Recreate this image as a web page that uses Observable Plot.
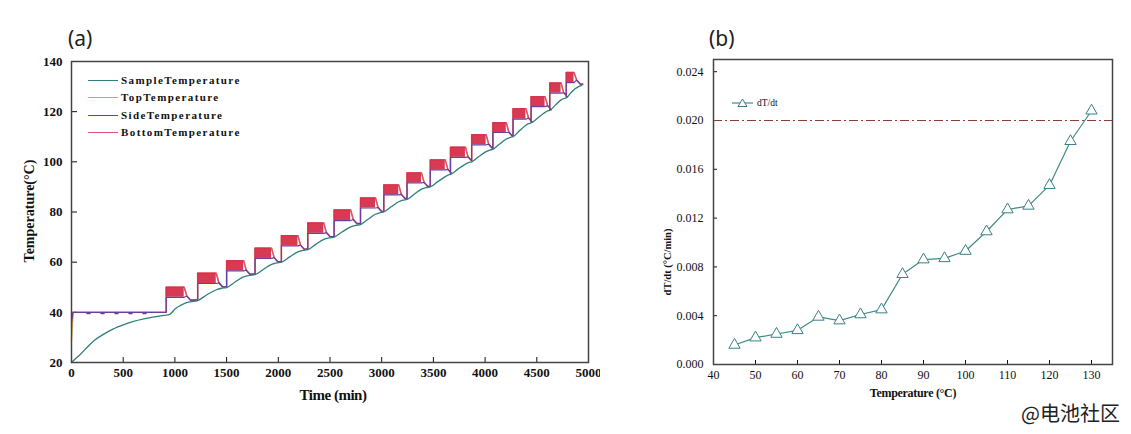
<!DOCTYPE html>
<html>
<head>
<meta charset="utf-8">
<script src="https://cdn.jsdelivr.net/npm/d3@7"></script>
<script src="https://cdn.jsdelivr.net/npm/@observablehq/plot@0.6"></script>
<style>
  body { margin:0; width:1131px; height:434px; position:relative; background:#fff; overflow:hidden; }
  .abs { position:absolute; white-space:nowrap; }
  .serif { font-family:"Liberation Serif","DejaVu Serif",serif; color:#111; }
  .rot { transform:translate(-50%,-50%) rotate(-90deg); }
  .ctr { transform:translate(-50%,-50%); }
  .leg { font-weight:bold; font-size:11px; letter-spacing:1.4px; }
</style>
</head>
<body>
<div id="pa" class="abs" style="left:0;top:0"></div>
<div id="pb" class="abs" style="left:640px;top:0"></div>

<div class="abs" style="left:68px;top:24px;font:21px 'Noto Sans','DejaVu Sans',sans-serif;color:#222">(a)</div>
<div class="abs" style="left:709px;top:24px;font:21px 'Noto Sans','DejaVu Sans',sans-serif;color:#222">(b)</div>

<div class="abs serif ctr" style="left:333px;top:395px;font-weight:bold;font-size:15px;letter-spacing:-0.5px">Time (min)</div>
<div class="abs serif rot" style="left:30px;top:211px;font-weight:bold;font-size:14px">Temperature(°C)</div>
<div class="abs serif ctr" style="left:913px;top:393px;font-weight:bold;font-size:12px;letter-spacing:-0.3px">Temperature (°C)</div>
<div class="abs serif rot" style="left:667px;top:262px;font-weight:bold;font-size:10.5px">dT/dt (°C/min)</div>

<div class="abs" style="left:1021px;top:398px;font:20px 'Noto Sans CJK SC','Noto Sans',sans-serif;color:#222">@电池社区</div>

<script>
// ---------- Panel (a) data ----------
const seriesNames = ["SampleTemperature", "TopTemperature", "SideTemperature", "BottomTemperature"];
const seriesColors = ["#2f7f7c", "#e3a13f", "#6b3fa0", "#d9507a"];

// Sample temperature (time in min, temperature in °C)
const sampleTime = [0, 30, 80, 150, 220, 300, 400, 500, 600, 700, 800, 900, 950,
  1003, 1090, 1150, 1220, 1310, 1400, 1450, 1500, 1582, 1665, 1720, 1775, 1855, 1935, 1985,
  2030, 2110, 2190, 2240, 2285, 2362, 2440, 2490, 2540, 2620, 2700, 2750, 2795, 2867, 2940, 2980,
  3020, 3092, 3165, 3205, 3245, 3315, 3385, 3430, 3470, 3542, 3615, 3640, 3665, 3737, 3810, 3840,
  3870, 3940, 4010, 4045, 4075, 4140, 4205, 4240, 4270, 4332, 4395, 4420, 4445, 4512, 4580, 4605,
  4625, 4680, 4735, 4760, 4785, 4827, 4870, 4900, 4935];
const sampleTemp = [20, 21.2, 23, 26, 28.8, 31, 33.3, 35, 36.4, 37.4, 38.2, 38.8, 39.2,
  41.4, 43.5, 44.2, 44.7, 47, 49, 49.6, 49.9, 52.1, 54.1, 54.7, 55, 57.1, 59.1, 59.7,
  60, 62.1, 64.1, 64.7, 65, 67.1, 69.1, 69.7, 70, 72.1, 74.1, 74.7, 75, 77.1, 79.1, 79.7,
  80, 82.1, 84.1, 84.7, 85, 87.1, 89.1, 89.7, 90, 92.1, 94.1, 94.7, 95, 97.1, 99.1, 99.7,
  100, 102.1, 104.1, 104.7, 105, 107.1, 109.1, 109.7, 110, 112.4, 114.6, 115.2, 115.5, 117.6, 119.7, 120.3,
  120.5, 122.6, 124.7, 125.2, 125.5, 127.4, 129.1, 129.9, 130.5];

// Heater schedule (shared by top / side / bottom heaters)
const preheatLevel = 40;
const heaterStartTemp = [29, 36, 38];          // top, side, bottom at t = 0
const pulseStart = [916, 1220, 1500, 1775, 2030, 2285, 2540, 2795, 3020, 3245, 3470, 3665, 3870, 4075, 4270, 4445, 4625, 4785];
const pulseEnd   = [1090, 1400, 1665, 1935, 2190, 2440, 2700, 2940, 3165, 3385, 3615, 3810, 4010, 4205, 4395, 4580, 4735, 4860];
const pulseTop   = [50, 55.6, 60.6, 65.6, 70.6, 75.6, 80.8, 85.6, 90.8, 95.6, 100.8, 105.8, 110.8, 115.6, 121.2, 126, 131.4, 135.6];
const pulseLow   = [46, 51.5, 56.5, 61.5, 66.5, 71.5, 76.6, 81.6, 86.8, 91.6, 96.8, 101.8, 106.8, 111.7, 117, 122, 127.4, 131.6];
const lowAfter   = [44.9, 50.2, 55.2, 60.2, 65.2, 70.2, 75.4, 80.2, 85.4, 90.2, 95.4, 100.4, 105.4, 110.2, 115.9, 120.8, 126, 131];
const endTime = 4945;
const preheatDashT = [150, 760];  // short dashed trace just under 40 °C
const preheatDashY = 39.5;

// ---------- Panel (b) data ----------
const tempB = [45, 50, 55, 60, 65, 70, 75, 80, 85, 90, 95, 100, 105, 110, 115, 120, 125, 130];
const dTdt  = [0.0016, 0.0022, 0.0025, 0.0028, 0.0039, 0.0036, 0.0041, 0.0045, 0.0074, 0.0086, 0.0087, 0.0093, 0.0109, 0.0127, 0.0130, 0.0147, 0.0183, 0.0208];
const limitRate = 0.020;
const xTicksA = [0, 500, 1000, 1500, 2000, 2500, 3000, 3500, 4000, 4500, 5000];
const yTicksA = [20, 40, 60, 80, 100, 120, 140];
const xTicksB = [40, 50, 60, 70, 80, 90, 100, 110, 120, 130];
const yTicksB = [0, 0.004, 0.008, 0.012, 0.016, 0.020, 0.024];

// ---------- build tables ----------
const sampleRows = sampleTime.map((t, i) => ({t, T: sampleTemp[i]}));

function heaterRows(startTemp, plateau) {
  const rows = [{t: 0, T: startTemp}, {t: 15, T: preheatLevel}, {t: pulseStart[0], T: preheatLevel}];
  pulseStart.forEach((s, k) => {
    const e = pulseEnd[k];
    rows.push({t: s, T: plateau[k]}, {t: e, T: plateau[k]},
              {t: e + 25, T: lowAfter[k] + 1.6}, {t: e + 60, T: lowAfter[k]});
    rows.push({t: k + 1 < pulseStart.length ? pulseStart[k + 1] : endTime, T: lowAfter[k]});
  });
  return rows;
}
const topRows = heaterRows(heaterStartTemp[0], pulseTop);
const sideRows = heaterRows(heaterStartTemp[1], pulseLow);
const bottomRows = heaterRows(heaterStartTemp[2], pulseTop);
const bandRows = pulseStart.flatMap((s, k) => [
  {k, t: s, lo: pulseLow[k], hi: pulseTop[k]},
  {k, t: pulseEnd[k], lo: pulseLow[k], hi: pulseTop[k]}
]);
const dashRows = preheatDashT.map(t => ({t, T: preheatDashY}));
const rowsB = tempB.map((x, i) => ({x, y: dTdt[i]}));

const serif = "Liberation Serif, DejaVu Serif, serif";

const plotA = Plot.plot({
  width: 600, height: 410,
  marginLeft: 71, marginRight: 12, marginTop: 61, marginBottom: 48,
  style: {fontFamily: serif, fontSize: "13px", fontWeight: "bold", color: "#111", background: "transparent"},
  x: {domain: [0, 5000]},
  y: {domain: [20, 140]},
  marks: [
    Plot.axisX({ticks: xTicksA, tickSize: -5, tickPadding: 10, label: null, tickFormat: d => String(d)}),
    Plot.axisY({ticks: yTicksA, tickSize: -6, tickPadding: 15, label: null}),
    Plot.lineY(dashRows, {x: "t", y: "T", stroke: seriesColors[2], strokeWidth: 1.5, strokeDasharray: "3,11"}),
    Plot.line(topRows, {x: "t", y: "T", stroke: seriesColors[1], strokeWidth: 1.4}),
    Plot.line(bottomRows, {x: "t", y: "T", stroke: seriesColors[3], strokeWidth: 1.4}),
    Plot.areaY(bandRows, {x: "t", y1: "lo", y2: "hi", z: "k", fill: "#d62f4a", fillOpacity: 0.95}),
    Plot.line(sideRows, {x: "t", y: "T", stroke: seriesColors[2], strokeWidth: 1.2}),
    Plot.line(sampleRows, {x: "t", y: "T", stroke: seriesColors[0], strokeWidth: 1.3, curve: "monotone-x"}),
    Plot.frame({stroke: "#444", strokeWidth: 1.5})
  ]
});
document.getElementById("pa").appendChild(plotA);

const plotB = Plot.plot({
  width: 491, height: 410,
  marginLeft: 73, marginRight: 19, marginTop: 59, marginBottom: 46,
  style: {fontFamily: serif, fontSize: "12px", color: "#111", background: "transparent"},
  x: {domain: [40, 135]},
  y: {domain: [0, 0.025]},
  marks: [
    Plot.axisX({ticks: xTicksB, tickSize: -4, tickPadding: 10, label: null}),
    Plot.axisY({ticks: yTicksB, tickSize: -4, tickPadding: 14, label: null, tickFormat: d3.format(".3f")}),
    Plot.ruleY([limitRate], {stroke: "#8e3b3b", strokeWidth: 1, strokeDasharray: "9,3,2,3"}),
    Plot.line(rowsB, {x: "x", y: "y", stroke: "#3f8c82", strokeWidth: 1.2}),
    Plot.dot(rowsB, {x: "x", y: "y", symbol: "triangle", r: 4.2, stroke: "#3c7f86", fill: "white", strokeWidth: 1}),
    Plot.frame({stroke: "#444", strokeWidth: 1.5})
  ]
});
document.getElementById("pb").appendChild(plotB);

// ---------- legends (HTML overlays inside the frames) ----------
const legY = [81, 98, 116, 133];
seriesNames.forEach((name, i) => {
  const ln = document.createElement("div");
  ln.className = "abs";
  ln.style.cssText = `left:88px;top:${legY[i]-1}px;width:30px;height:0;border-top:1.6px solid ${seriesColors[i]}`;
  document.body.appendChild(ln);
  const tx = document.createElement("div");
  tx.className = "abs serif leg";
  tx.style.cssText += `left:121px;top:${legY[i]-7}px;`;
  tx.textContent = name;
  document.body.appendChild(tx);
});
const lb = document.createElement("div");
lb.className = "abs";
lb.innerHTML = `<svg width="60" height="14" style="overflow:visible">
  <line x1="0" y1="7" x2="21" y2="7" stroke="#3f8c82" stroke-width="1.2"/>
  <path d="M10.5,3 L15,10.5 L6,10.5 Z" fill="white" stroke="#3c7f86" stroke-width="1"/>
  <text x="25" y="10" font-family="${serif}" font-size="9.5" fill="#111">dT/dt</text></svg>`;
lb.style.cssText = "left:732px;top:96px";
document.body.appendChild(lb);
</script>
</body>
</html>
